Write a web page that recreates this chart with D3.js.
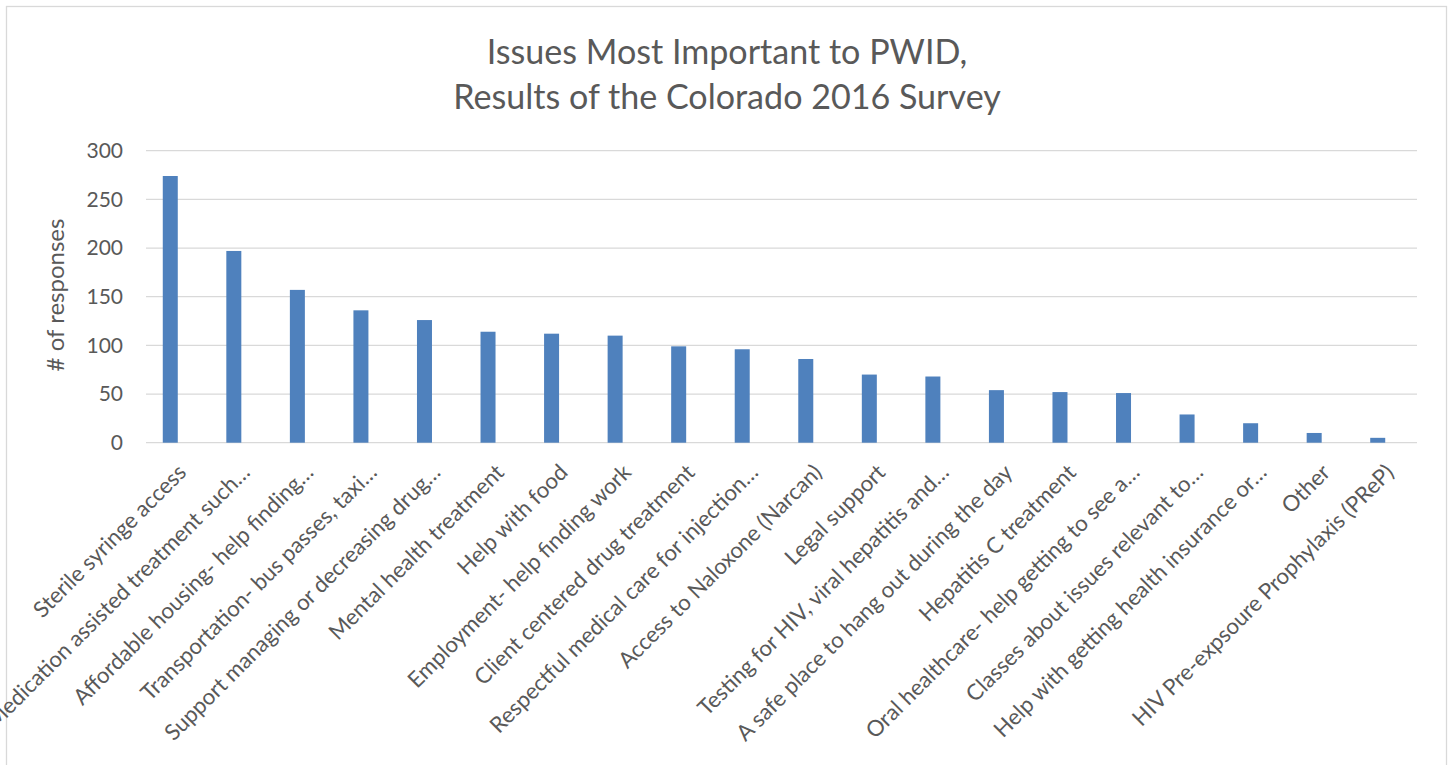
<!DOCTYPE html>
<html>
<head>
<meta charset="utf-8">
<script src="https://cdn.jsdelivr.net/npm/d3@7"></script>
<style>
  html, body { margin: 0; padding: 0; background: #fff; }
  svg { display: block; }
  text { font-family: Lato, "Open Sans", sans-serif; fill: #595959; }
</style>
</head>
<body>
<svg id="chart" width="1453" height="765"></svg>
<script>
const titleLines = ["Issues Most Important to PWID,", "Results of the Colorado 2016 Survey"];
const yAxisTitle = "# of responses";
const categories = [
  "Sterile syringe access",
  "Medication assisted treatment such…",
  "Affordable housing- help finding…",
  "Transportation- bus passes, taxi…",
  "Support managing or decreasing drug…",
  "Mental health treatment",
  "Help with food",
  "Employment- help finding work",
  "Client centered drug treatment",
  "Respectful medical care for injection…",
  "Access to Naloxone (Narcan)",
  "Legal support",
  "Testing for HIV, viral hepatitis and…",
  "A safe place to hang out during the day",
  "Hepatitis C treatment",
  "Oral healthcare- help getting to see a…",
  "Classes about issues relevant to…",
  "Help with getting health insurance or…",
  "Other",
  "HIV Pre-expsoure Prophylaxis (PReP)"
];
const values = [274, 197, 157, 136, 126, 114, 112, 110, 99, 96, 86, 70, 68, 54, 52, 51, 29, 20, 10, 5];
const seriesKeys = ["Series 1", "Series 2"];
const yTicks = [0, 50, 100, 150, 200, 250, 300];

const svg = d3.select("#chart");
const plot = { left: 146, right: 1417, top: 150.7, bottom: 442.7 };

// chart border
svg.append("rect")
  .attr("x", 6.5).attr("y", 6.5)
  .attr("width", 1440).attr("height", 800)
  .attr("fill", "#fff").attr("stroke", "#d9d9d9").attr("stroke-width", 1.3);

const x = d3.scaleBand().domain(categories).range([plot.left, plot.right]).padding(0);
const xs = d3.scaleBand().domain(seriesKeys).range([0, x.bandwidth()]).paddingInner(0).paddingOuter(1.118);
const y = d3.scaleLinear().domain([0, 300]).range([plot.bottom, plot.top]);

// gridlines
svg.append("g")
  .selectAll("line").data(yTicks).join("line")
  .attr("x1", plot.left).attr("x2", plot.right)
  .attr("y1", d => y(d)).attr("y2", d => y(d))
  .attr("stroke", "#d9d9d9").attr("stroke-width", 1.3);

// y tick labels
const yAxis = d3.axisLeft(y).tickValues(yTicks).tickSize(0).tickPadding(0);
const gy = svg.append("g").attr("transform", "translate(123,0)").call(yAxis);
gy.select(".domain").remove();
gy.selectAll("text")
  .style("font-family", "Lato, sans-serif")
  .style("font-size", "21px")
  .attr("fill", "#595959");

// bars
svg.append("g")
  .selectAll("rect").data(categories.map((c, i) => ({ c, v: values[i] }))).join("rect")
  .attr("x", d => x(d.c) + xs("Series 1"))
  .attr("width", xs.bandwidth())
  .attr("y", d => y(d.v))
  .attr("height", d => y(0) - y(d.v))
  .attr("fill", "#4f81bd");

// category labels
const xAxis = d3.axisBottom(x).tickSize(0).tickPadding(0);
const gx = svg.append("g").attr("transform", `translate(0,${plot.bottom})`).call(xAxis);
gx.select(".domain").remove();
gx.selectAll("text")
  .style("font-family", "Lato, sans-serif")
  .style("font-size", "22.2px")
  .attr("fill", "#595959")
  .attr("text-anchor", "end")
  .attr("dy", null)
  .attr("y", 0)
  .attr("transform", "rotate(-45) translate(-15,29)");

// y axis title
svg.append("text")
  .attr("transform", "translate(64,295) rotate(-90)")
  .attr("text-anchor", "middle")
  .style("font-size", "24px")
  .text(yAxisTitle);

// title
svg.append("g").selectAll("text").data(titleLines).join("text")
  .attr("x", 727)
  .attr("y", (d, i) => 64 + i * 44.5)
  .attr("text-anchor", "middle")
  .style("font-size", "34.1px")
  .text(d => d);
</script>
</body>
</html>
